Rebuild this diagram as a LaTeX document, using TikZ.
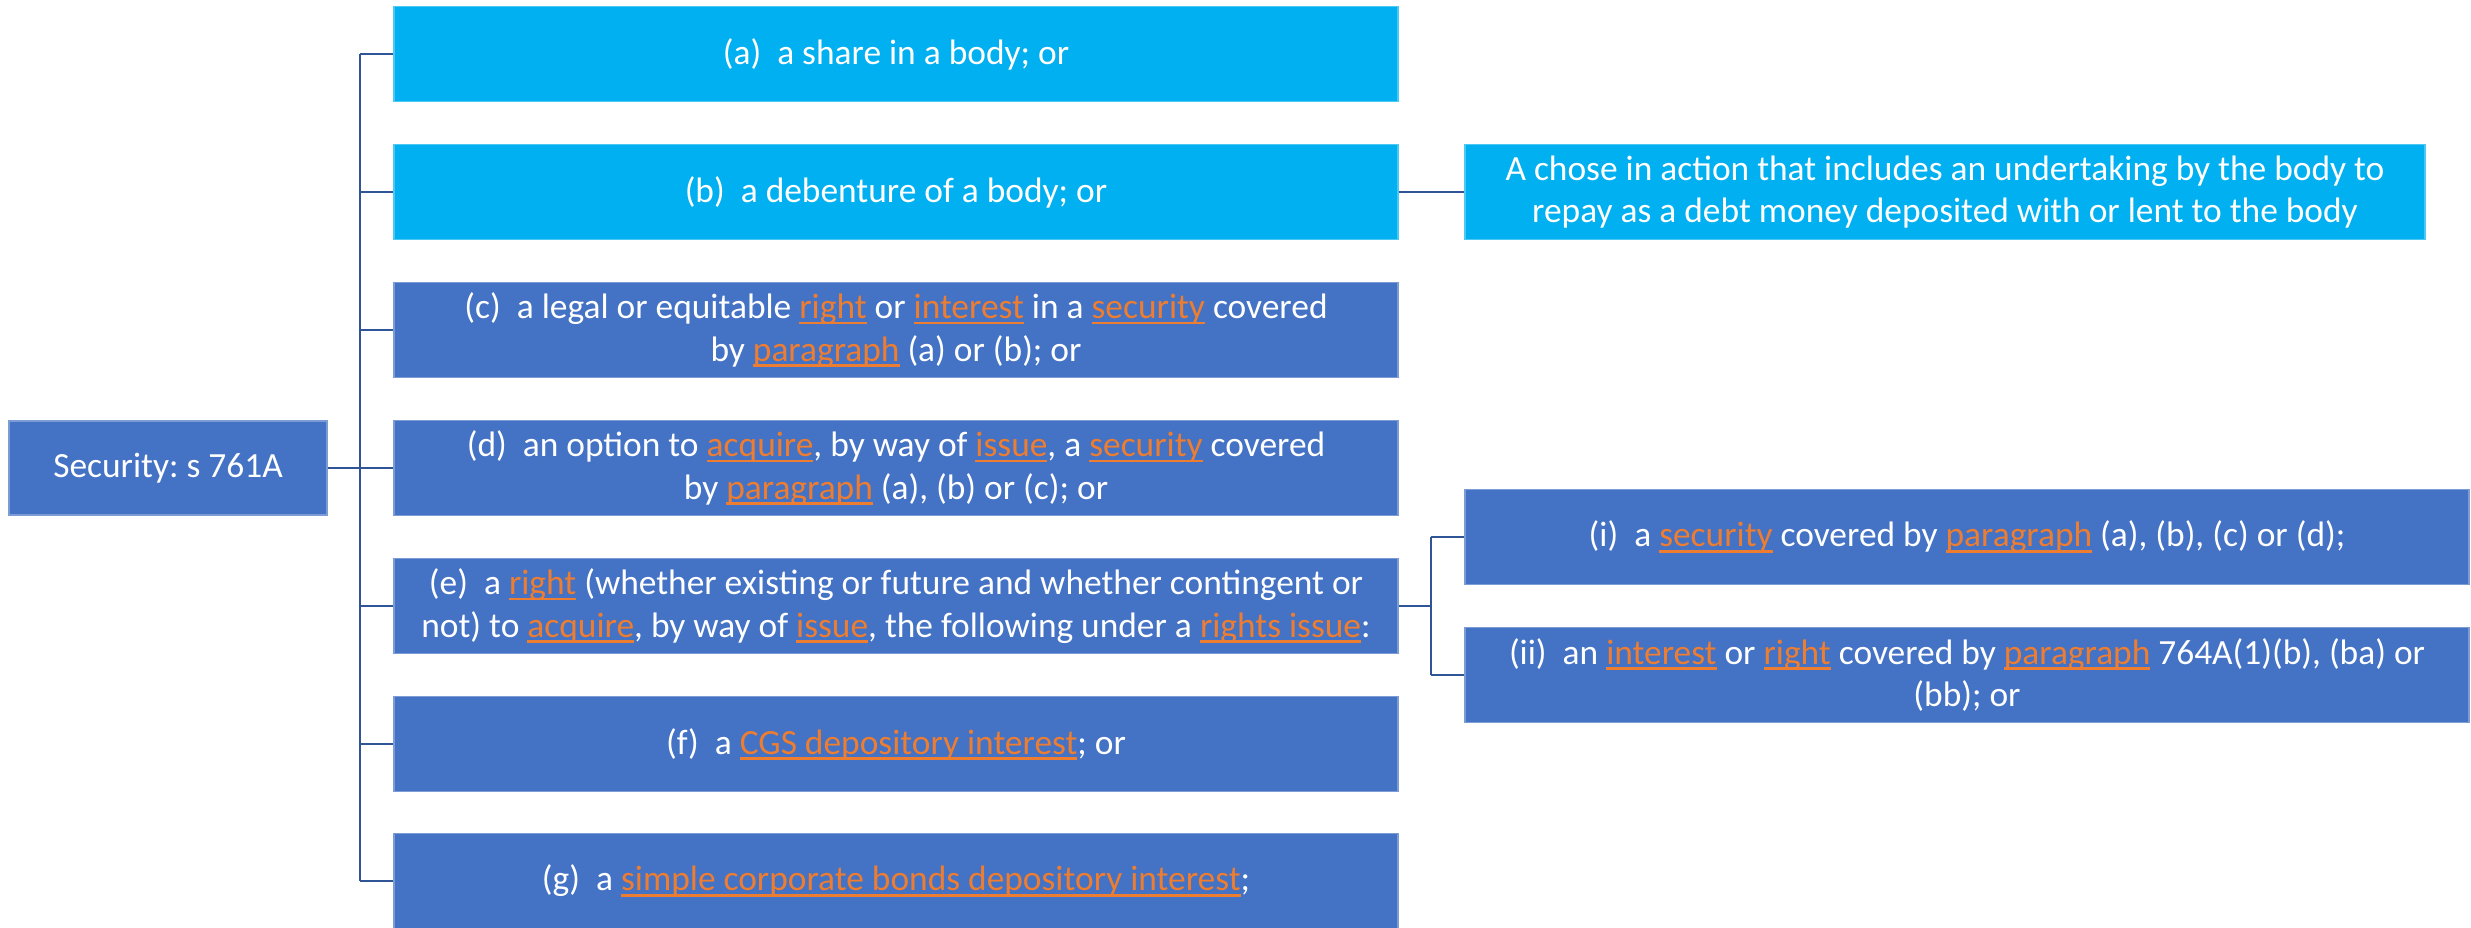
\documentclass[tikz,border=0pt]{standalone}
\usepackage{fontspec}
\setmainfont{Carlito}
\frenchspacing
\definecolor{cyanbox}{HTML}{00B0F0}
\definecolor{bluebox}{HTML}{4472C4}
\definecolor{linkor}{HTML}{ED7D31}
\definecolor{connector}{HTML}{2F5597}
% orange underlined cross-reference
\newcommand\lnk[1]{{\color{linkor}\setbox0\hbox{#1}\rlap{\rule[-2.8pt]{\wd0}{1.3pt}}\box0}}
\begin{document}
\begin{tikzpicture}[x=0.5pt, y=-0.5pt,
  box/.style={rectangle, fill=bluebox, draw=bluebox!70!white, line width=0.6pt,
    text=white, font=\fontsize{17.7}{21.4}\selectfont, align=center, inner sep=0pt},
  item/.style={box, minimum width=502pt, minimum height=47.5pt},
  lightitem/.style={item, fill=cyanbox, draw=cyanbox!70!white},
  conn/.style={draw=connector, line width=1.1pt}]
\useasboundingbox (0,0) rectangle (2471,927);

% root
\node[box, minimum width=159pt, minimum height=47pt] (sec) at (168,468) {Security: s 761A};

% paragraphs (a)-(g)
\node[lightitem] (a) at (896,54) {(a)\ \ a share in a body; or};
\node[lightitem] (b) at (896,192) {(b)\ \ a debenture of a body; or};
\node[item] (c) at (896,330) {(c)\ \ a legal or equitable \lnk{right} or \lnk{interest} in a \lnk{security} covered\\by \lnk{paragraph} (a) or (b); or};
\node[item] (d) at (896,468) {(d)\ \ an option to \lnk{acquire}, by way of \lnk{issue}, a \lnk{security} covered\\by \lnk{paragraph} (a), (b) or (c); or};
\node[item] (e) at (896,606) {(e)\ \ a \lnk{right} (whether existing or future and whether contingent or\\not) to \lnk{acquire}, by way of \lnk{issue}, the following under a \lnk{rights issue}:};
\node[item] (f) at (896,744) {(f)\ \ a \lnk{CGS depository interest}; or};
\node[item] (g) at (896,881) {(g)\ \ a \lnk{simple corporate bonds depository interest};};

% explanation of (b)
\node[lightitem, minimum width=480pt] (chose) at (1945,192) {A chose in action that includes an undertaking by the body to\\repay as a debt money deposited with or lent to the body};

% sub-items of (e)
\node[item] (i) at (1967,537) {(i)\ \ a \lnk{security} covered by \lnk{paragraph} (a), (b), (c) or (d);};
\node[item] (ii) at (1967,675) {(ii)\ \ an \lnk{interest} or \lnk{right} covered by \lnk{paragraph} 764A(1)(b), (ba) or\\(bb); or};

% connectors
\coordinate (tr) at (360,0);
\coordinate (br) at (1431,0);
\draw[conn] (sec.east) -- (sec.east -| tr);
\draw[conn] (a.west -| tr) -- (g.west -| tr);
\foreach \n in {a,b,c,d,e,f,g} \draw[conn] (\n.west -| tr) -- (\n.west);
\draw[conn] (b.east) -- (chose.west);
\draw[conn] (e.east) -- (e.east -| br);
\draw[conn] (i.west -| br) -- (ii.west -| br);
\draw[conn] (i.west -| br) -- (i.west);
\draw[conn] (ii.west -| br) -- (ii.west);
\end{tikzpicture}
\end{document}
